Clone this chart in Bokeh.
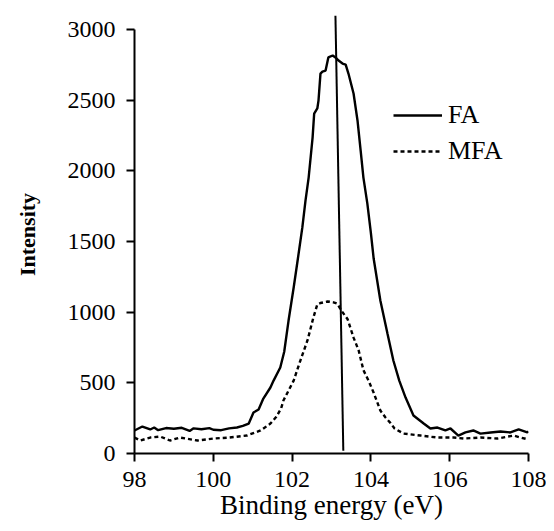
from bokeh.plotting import figure
from bokeh.models import Legend, LegendItem, Range1d, FixedTicker
from bokeh.embed import file_html
from bokeh.resources import INLINE

# ---- data ----
fa_x = [98.0, 98.2, 98.4, 98.5, 98.6, 98.8, 99.0, 99.2, 99.4, 99.5, 99.7, 99.9, 100.0,
        100.2, 100.4, 100.6, 100.75, 100.9, 101.02, 101.15, 101.27, 101.45, 101.53, 101.7,
        101.8, 101.91, 102.04, 102.14, 102.26, 102.34, 102.42, 102.52, 102.56, 102.64,
        102.67, 102.72, 102.77, 102.85, 102.92, 103.03, 103.10, 103.18, 103.28, 103.36,
        103.43, 103.56, 103.66, 103.74, 103.81, 103.91, 104.0, 104.07, 104.24, 104.42,
        104.57, 104.72, 104.88, 105.08, 105.34, 105.51, 105.69, 105.89, 106.02, 106.22,
        106.4, 106.6, 106.78, 107.04, 107.29, 107.54, 107.75, 107.97, 108.0]
fa_y = [163, 191, 170, 184, 165, 180, 175, 182, 160, 178, 172, 180, 168,
        165, 178, 184, 195, 212, 290, 311, 389, 467, 516, 609,
        720, 941, 1175, 1366, 1600, 1790, 1953, 2236, 2406, 2442,
        2498, 2689, 2703, 2710, 2803, 2817, 2803, 2781, 2760, 2753,
        2689, 2548, 2357, 2144, 1953, 1769, 1560, 1380, 1083, 849,
        658, 516, 396, 269, 212, 177, 184, 163, 177, 127,
        149, 163, 141, 149, 156, 149, 170, 149, 156]

mfa_x = [98.0, 98.15, 98.4, 98.65, 98.9, 99.15, 99.6, 100.0, 100.4, 100.85, 101.2, 101.45,
         101.6, 101.72, 101.78, 102.04, 102.21, 102.39, 102.54, 102.64, 102.72, 102.90,
         103.05, 103.15, 103.25, 103.41, 103.56, 103.69, 103.81, 103.95, 104.07, 104.24,
         104.37, 104.5, 104.6, 104.83, 105.26, 105.69, 106.1, 106.35, 106.78, 107.21,
         107.62, 107.8, 108.0]
mfa_y = [113, 92, 113, 120, 92, 113, 92, 106, 113, 127, 163, 212,
         260, 318, 375, 516, 658, 800, 962, 1055, 1065, 1076,
         1070, 1060, 1012, 950, 820, 729, 590, 510, 430, 304,
         255, 215, 177, 141, 127, 113, 113, 106, 113, 106,
         127, 113, 99]

marker_x = [103.10, 103.30]
marker_y = [3100, 20]

x_ticks = [98, 100, 102, 104, 106, 108]
y_ticks = [0, 500, 1000, 1500, 2000, 2500, 3000]

FONT = "Liberation Serif"

p = figure(width=546, height=531, output_backend="svg", toolbar_location=None,
           x_range=Range1d(98, 108), y_range=Range1d(0, 3100),
           min_border_left=134, min_border_right=18, min_border_top=15, min_border_bottom=78)
p.outline_line_color = None
p.xgrid.visible = False
p.ygrid.visible = False
p.background_fill_color = "white"

r_fa = p.line(fa_x, fa_y, line_color="black", line_width=2.4)
r_mfa = p.line(mfa_x, mfa_y, line_color="black", line_width=2.4, line_dash="4 3")
p.line(marker_x, marker_y, line_color="black", line_width=2)

for ax in (p.xaxis[0], p.yaxis[0]):
    ax.axis_line_color = "black"
    ax.axis_line_width = 2
    ax.major_tick_line_color = "black"
    ax.major_tick_line_width = 2
    ax.major_tick_out = 8
    ax.major_tick_in = 0
    ax.minor_tick_line_color = None
    ax.major_label_text_font = FONT
    ax.major_label_text_font_size = "24px"
    ax.major_label_text_color = "black"
    ax.axis_label_text_font = FONT
    ax.axis_label_text_color = "black"

p.xaxis.ticker = FixedTicker(ticks=x_ticks)
p.yaxis.ticker = FixedTicker(ticks=y_ticks)
p.yaxis.bounds = (0, 3000)
p.xaxis.bounds = (98, 108)
p.xaxis.major_label_standoff = 10
p.yaxis.major_label_standoff = 11

p.xaxis.axis_label = "Binding energy (eV)"
p.xaxis.axis_label_text_font_size = "27px"
p.xaxis.axis_label_text_font_style = "normal"
p.xaxis.axis_label_standoff = 0

p.yaxis.axis_label = "Intensity"
p.yaxis.axis_label_text_font_size = "22px"
p.yaxis.axis_label_text_font_style = "bold"
p.yaxis.axis_label_standoff = 25

legend = Legend(items=[LegendItem(label="FA", renderers=[r_fa]),
                       LegendItem(label="MFA", renderers=[r_mfa])],
                location=(259, 284))
legend.border_line_color = None
legend.background_fill_alpha = 0
legend.padding = 0
legend.margin = 0
legend.spacing = 0
legend.glyph_width = 49
legend.glyph_height = 36
legend.label_height = 36
legend.label_standoff = 6
legend.label_text_font = FONT
legend.label_text_font_size = "26px"
legend.label_text_color = "black"
p.add_layout(legend, "center")

open("out.html", "w").write(file_html(p, INLINE))
